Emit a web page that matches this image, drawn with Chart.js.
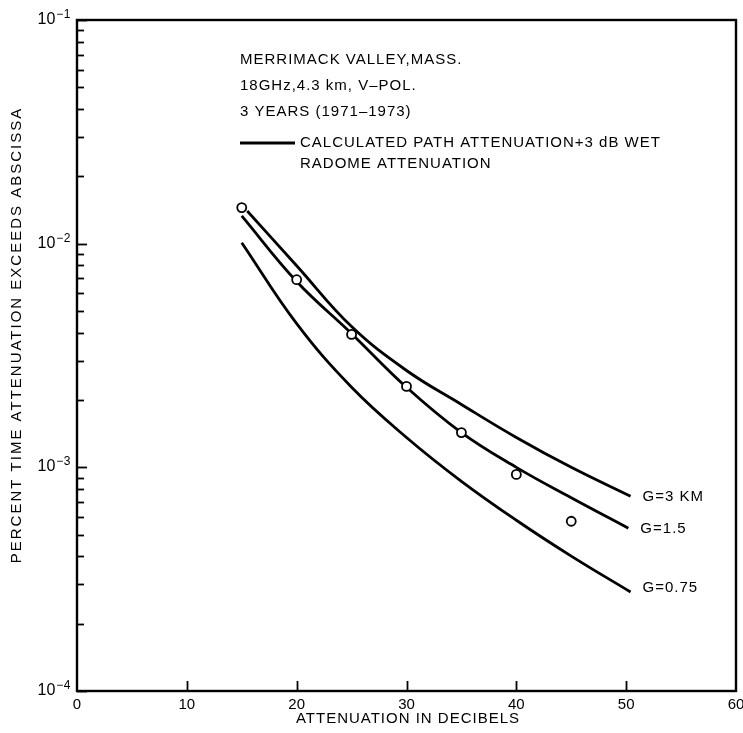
<!DOCTYPE html>
<html>
<head>
<meta charset="utf-8">
<script src="https://cdn.jsdelivr.net/npm/chart.js@4.4.1/dist/chart.umd.min.js"></script>
<style>
  html, body { margin: 0; background: #fff; }
  #chart { display: block; }
</style>
</head>
<body>
<canvas id="chart" width="743" height="733"></canvas>
<script>
// Data
const xStep = 10;
const yDecades = [1e-4, 1e-3, 1e-2, 1e-1];
const yMinorMult = [2, 3, 4, 5, 6, 7, 8, 9];

const g3X = [15.5, 20, 25, 30, 35, 40, 45, 50.4];
const g3Y = [0.0140, 0.00797, 0.00426, 0.00271, 0.00191, 0.00136, 0.00100, 0.000742];

const g15X = [15, 20, 25, 30, 35, 40, 45, 50.2];
const g15Y = [0.0133, 0.00677, 0.00396, 0.00228, 0.00143, 0.00100, 0.000731, 0.000534];

const g075X = [15, 20, 25, 30, 35, 40, 45, 50.4];
const g075Y = [0.0101, 0.00439, 0.00228, 0.00136, 0.000866, 0.000580, 0.000401, 0.000277];

const obsX = [15, 20, 25, 30, 35, 40, 45];
const obsY = [0.0145, 0.0069, 0.00393, 0.00230, 0.00143, 0.00093, 0.000574];

const curveLabels = ['G=3 KM', 'G=1.5', 'G=0.75'];
const notes = ['MERRIMACK VALLEY,MASS.', '18GHz,4.3 km, V\u2013POL.', '3 YEARS (1971\u20131973)'];
const legendText = ['CALCULATED PATH ATTENUATION+3 dB WET', 'RADOME ATTENUATION'];
const xTitle = 'ATTENUATION IN DECIBELS';
const yTitle = 'PERCENT TIME ATTENUATION EXCEEDS ABSCISSA';

const FONT = '"Liberation Sans", Arial, Helvetica, sans-serif';
const pts = (xs, ys) => xs.map((x, i) => ({ x, y: ys[i] }));

function curve(xs, ys) {
  return {
    type: 'line',
    data: pts(xs, ys),
    borderColor: '#000',
    borderWidth: 2.8,
    pointRadius: 0,
    fill: false,
    tension: 0.4
  };
}

// frame, inward ticks, labels and notes
const decor = {
  id: 'decor',
  afterDraw(chart) {
    const { ctx, chartArea: a, scales: { x, y } } = chart;
    ctx.save();
    ctx.strokeStyle = '#000';
    ctx.fillStyle = '#000';

    ctx.lineWidth = 2.4;
    ctx.strokeRect(a.left, a.top, a.right - a.left, a.bottom - a.top);

    // y ticks
    ctx.lineWidth = 1.8;
    y.ticks.forEach(t => {
      const lg = Math.log10(t.value);
      const major = Math.abs(lg - Math.round(lg)) < 1e-6;
      const py = Math.round(y.getPixelForValue(t.value)) + 0.5;
      ctx.beginPath();
      ctx.moveTo(a.left, py);
      ctx.lineTo(a.left + (major ? 10 : 7), py);
      ctx.stroke();
      if (major) {
        ctx.textBaseline = 'middle';
        ctx.textAlign = 'right';
        ctx.font = '12px ' + FONT;
        ctx.letterSpacing = '0.5px';
        const sup = '\u2212' + Math.abs(Math.round(lg));
        const sw = ctx.measureText(sup).width;
        ctx.fillText(sup, 71, py - 6);
        ctx.font = '16px ' + FONT;
        ctx.letterSpacing = '0px';
        ctx.fillText('10', 71 - sw - 1, py - 1);
      }
    });

    // x ticks
    x.ticks.forEach(t => {
      if (t.value <= x.min || t.value >= x.max) return;
      const px = Math.round(x.getPixelForValue(t.value)) + 0.5;
      ctx.beginPath();
      ctx.moveTo(px, a.bottom);
      ctx.lineTo(px, a.bottom - 10);
      ctx.stroke();
    });

    ctx.font = '15px ' + FONT;
    ctx.letterSpacing = '1px';
    ctx.textAlign = 'left';
    ctx.textBaseline = 'middle';

    // curve labels
    const labelNudge = [1, 1, -4];
    [[g3X, g3Y], [g15X, g15Y], [g075X, g075Y]].forEach(([xs, ys], i) => {
      const n = xs.length - 1;
      const px = x.getPixelForValue(xs[n]) + 12;
      const py = y.getPixelForValue(ys[n]) + labelNudge[i];
      ctx.fillText(curveLabels[i], px, py);
    });

    // notes
    notes.forEach((s, i) => ctx.fillText(s, 240, 60 + i * 26));
    ctx.lineWidth = 3;
    ctx.beginPath();
    ctx.moveTo(240, 143);
    ctx.lineTo(295, 143);
    ctx.stroke();
    ctx.fillText(legendText[0], 300, 143);
    ctx.fillText(legendText[1], 300, 164);

    // axis titles
    ctx.textAlign = 'center';
    ctx.fillText(xTitle, 408, 719);
    ctx.save();
    ctx.translate(17, 335);
    ctx.rotate(-Math.PI / 2);
    ctx.letterSpacing = '2px';
    ctx.fillText(yTitle, 0, 0);
    ctx.restore();

    ctx.restore();
  }
};

new Chart(document.getElementById('chart'), {
  data: {
    datasets: [
      {
        type: 'scatter',
        data: pts(obsX, obsY),
        pointRadius: 4.5,
        pointBackgroundColor: '#fff',
        pointBorderColor: '#000',
        pointBorderWidth: 1.8,
        showLine: false
      },
      curve(g3X, g3Y),
      curve(g15X, g15Y),
      curve(g075X, g075Y)
    ]
  },
  options: {
    responsive: false,
    animation: false,
    devicePixelRatio: 1,
    layout: { padding: { top: 20, right: 7, left: 0, bottom: 0 } },
    plugins: { legend: { display: false }, tooltip: { enabled: false } },
    scales: {
      x: {
        type: 'linear',
        min: 0,
        max: 60,
        grid: { display: false, drawTicks: false },
        border: { display: false },
        ticks: {
          stepSize: xStep,
          color: '#000',
          padding: 5,
          font: { family: FONT, size: 15 },
          maxRotation: 0
        },
        afterFit: s => { s.height = 42; s.paddingLeft = 0; s.paddingRight = 0; }
      },
      y: {
        type: 'logarithmic',
        min: yDecades[0],
        max: yDecades[yDecades.length - 1],
        grid: { display: false },
        border: { display: false },
        ticks: { display: false },
        afterBuildTicks: s => {
          const ticks = [];
          yDecades.forEach((d, i) => {
            ticks.push({ value: d });
            if (i < yDecades.length - 1) yMinorMult.forEach(m => ticks.push({ value: d * m }));
          });
          s.ticks = ticks;
        },
        afterFit: s => { s.width = 77; }
      }
    }
  },
  plugins: [decor]
});
</script>
</body>
</html>
